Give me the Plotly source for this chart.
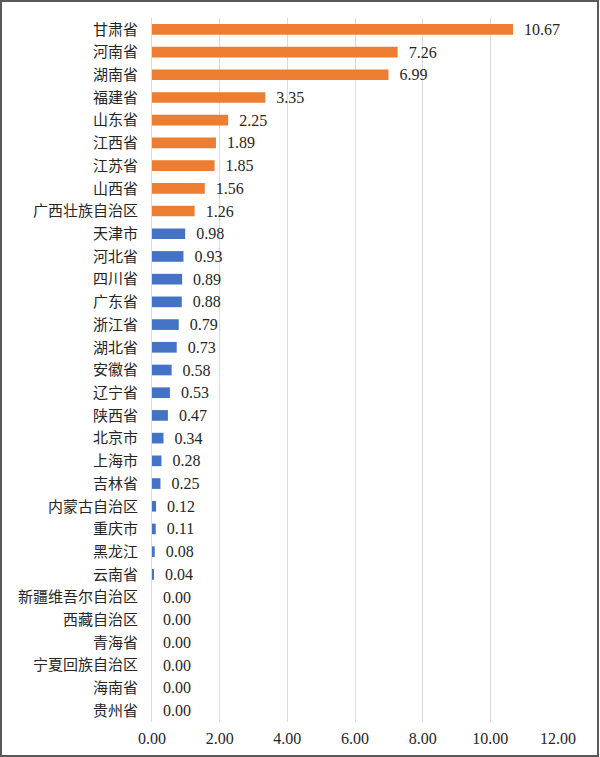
import plotly.graph_objects as go

provinces = [
    "甘肃省", "河南省", "湖南省", "福建省", "山东省", "江西省", "江苏省", "山西省",
    "广西壮族自治区", "天津市", "河北省", "四川省", "广东省", "浙江省", "湖北省",
    "安徽省", "辽宁省", "陕西省", "北京市", "上海市", "吉林省", "内蒙古自治区",
    "重庆市", "黑龙江", "云南省", "新疆维吾尔自治区", "西藏自治区", "青海省",
    "宁夏回族自治区", "海南省", "贵州省",
]
values = [
    10.67, 7.26, 6.99, 3.35, 2.25, 1.89, 1.85, 1.56,
    1.26, 0.98, 0.93, 0.89, 0.88, 0.79, 0.73,
    0.58, 0.53, 0.47, 0.34, 0.28, 0.25, 0.12,
    0.11, 0.08, 0.04, 0.00, 0.00, 0.00,
    0.00, 0.00, 0.00,
]
x_ticks = [0, 2, 4, 6, 8, 10, 12]

ORANGE = "#ED7D31"
BLUE = "#4472C4"
bar_colors = [ORANGE if v >= 1 else BLUE for v in values]

num_font = "Liberation Serif, DejaVu Serif, serif"

fig = go.Figure(
    go.Bar(
        x=values,
        y=provinces,
        orientation="h",
        marker=dict(color=bar_colors, line=dict(width=0)),
        # no-break spaces push the label off the bar end like the original
        text=["\u00a0\u00a0" + f"{v:.2f}" for v in values],
        textposition="outside",
        constraintext="none",
        textfont=dict(size=16, color="#262626", family=num_font),
        cliponaxis=False,
        showlegend=False,
    )
)

fig.update_layout(
    width=600,
    height=757,
    margin=dict(l=152, r=42, t=18, b=35, autoexpand=False),
    paper_bgcolor="white",
    plot_bgcolor="white",
    bargap=0.53,
    font=dict(family=num_font, size=16, color="#262626"),
    xaxis=dict(
        range=[0, 12],
        tickvals=x_ticks,
        ticktext=[f"{t:.2f}" for t in x_ticks],
        tickfont=dict(size=16, family=num_font, color="#262626"),
        ticklabelstandoff=5,
        showgrid=True,
        gridcolor="#D9D9D9",
        gridwidth=1,
        zeroline=False,
        showline=False,
        ticks="",
        fixedrange=True,
    ),
    yaxis=dict(
        autorange="reversed",
        showgrid=False,
        zeroline=False,
        showline=True,
        linecolor="#D9D9D9",
        linewidth=1,
        ticks="",
        ticklabelstandoff=10,
        tickfont=dict(size=15, family="Noto Sans CJK SC", color="#262626"),
        fixedrange=True,
    ),
    shapes=[
        dict(
            type="rect", xref="paper", yref="paper",
            x0=-151 / 406, x1=1 + 40 / 406, y0=-34 / 704, y1=1 + 17 / 704,
            line=dict(color="#595959", width=2),
        )
    ],
)

fig.write_html(
    "out.html",
    config={"displayModeBar": False},
    post_script="document.body.style.margin='0';",
)
